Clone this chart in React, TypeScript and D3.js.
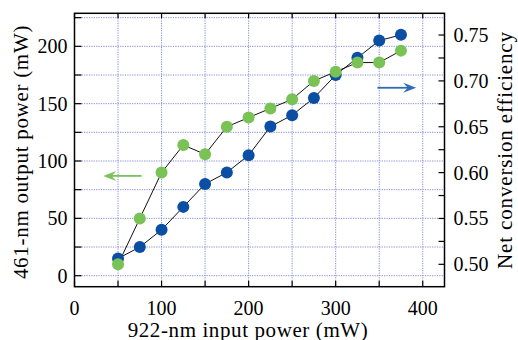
import React from 'react';
import * as d3 from 'd3';

// input power (mW)
const inputPower = [50, 75, 100, 125, 150, 175, 200, 225, 250, 275, 300, 325, 350, 375];
// 461-nm output power (mW), left axis
const outputPower = [15, 25, 40, 60, 80, 90, 105, 130, 140, 155, 175, 190, 205, 210];
// net conversion efficiency, right axis
const efficiency = [0.50, 0.55, 0.60, 0.63, 0.62, 0.65, 0.66, 0.67, 0.68, 0.70, 0.71, 0.72, 0.72, 0.733];

const xTicks = [0, 50, 100, 150, 200, 250, 300, 350, 400];
const xLabels = [0, 100, 200, 300, 400];
const leftTicks = [0, 25, 50, 75, 100, 125, 150, 175, 200, 225];
const leftLabels = [0, 50, 100, 150, 200];
const rightTicks = [0.5, 0.525, 0.55, 0.575, 0.6, 0.625, 0.65, 0.675, 0.7, 0.725, 0.75];
const rightLabels = [0.5, 0.55, 0.6, 0.65, 0.7, 0.75];

const W = 518, H = 340;
const FONT = 'Liberation Serif';
const left = 74.5, right = 444.5, top = 13.3, bottom = 286.7;

const x = d3.scaleLinear().domain([0, 425]).range([left, right]);
const yL = d3.scaleLinear().domain([-9.6, 228.8]).range([bottom, top]);
const yR = d3.scaleLinear().domain([0.4756, 0.7737]).range([bottom, top]);

const lineL = d3.line<number>().x((d, i) => x(inputPower[i])).y(d => yL(d));
const lineR = d3.line<number>().x((d, i) => x(inputPower[i])).y(d => yR(d));

const Arrow = ({ x0, x1, y, color }: { x0: number; x1: number; y: number; color: string }) => {
	const dir = x1 > x0 ? 1 : -1;
	const hl = 13, hw = 5;
	const p = [[x1, y], [x1 - dir * hl, y - hw], [x1 - dir * hl * 0.65, y], [x1 - dir * hl, y + hw]];
	return (
		<g>
			<line x1={x0} x2={x1 - dir * hl * 0.6} y1={y} y2={y} stroke={color} strokeWidth={1.8} />
			<path d={'M' + p.map(q => q.join(',')).join('L') + 'Z'} fill={color} />
		</g>
	);
};

const App = () => (
	<svg width={W} height={H} style={{ position: 'absolute', left: 0, top: 0, background: '#fff' }}>
		{/* grid */}
		<g stroke="#6e79cc" strokeWidth={1} strokeDasharray="1.2,1.2" opacity={0.85}>
			{xTicks.filter(d => d > 0).map(d => (
				<line key={'v' + d} x1={x(d)} x2={x(d)} y1={top} y2={bottom} />
			))}
			{leftTicks.map(d => (
				<line key={'h' + d} x1={left} x2={right} y1={yL(d)} y2={yL(d)} />
			))}
		</g>

		{/* ticks, inward */}
		<g stroke="#000" strokeWidth={1.2}>
			{xTicks.map(d => (
				<g key={'xt' + d}>
					<line x1={x(d)} x2={x(d)} y1={bottom} y2={bottom - 6} />
					<line x1={x(d)} x2={x(d)} y1={top} y2={top + 5} />
				</g>
			))}
			{leftTicks.map(d => (
				<line key={'lt' + d} x1={left} x2={left + 7} y1={yL(d)} y2={yL(d)} />
			))}
			{rightTicks.map(d => (
				<line key={'rt' + d} x1={right} x2={right - 6} y1={yR(d)} y2={yR(d)} />
			))}
		</g>

		{/* tick labels */}
		{xLabels.map(d => (
			<text key={'xl' + d} fontFamily={FONT} fontSize={20} x={x(d)} y={bottom + 28} textAnchor="middle">{d}</text>
		))}
		{leftLabels.map(d => (
			<text key={'ll' + d} fontFamily={FONT} fontSize={20} x={left - 7} y={yL(d) + 7} textAnchor="end">{d}</text>
		))}
		{rightLabels.map(d => (
			<text key={'rl' + d} fontFamily={FONT} fontSize={20} x={right + 9} y={yR(d) + 7} textAnchor="start">{d3.format('.2f')(d)}</text>
		))}

		{/* frame */}
		<rect x={left} y={top} width={right - left} height={bottom - top} fill="none" stroke="#000" strokeWidth={1.5} />

		{/* connecting lines */}
		<path d={lineL(outputPower) || ''} fill="none" stroke="#111" strokeWidth={1} />
		<path d={lineR(efficiency) || ''} fill="none" stroke="#111" strokeWidth={1} />

		{/* markers */}
		{outputPower.map((d, i) => (
			<circle key={'b' + i} cx={x(inputPower[i])} cy={yL(d)} r={6} fill="#0b4fa5" />
		))}
		{efficiency.map((d, i) => (
			<circle key={'g' + i} cx={x(inputPower[i])} cy={yR(d)} r={6} fill="#79c255" />
		))}

		{/* arrows */}
		<Arrow x0={x(77)} x1={x(33)} y={yL(87)} color="#7ac35a" />
		<Arrow x0={x(348)} x1={x(392.5)} y={yR(0.6925)} color="#2e6cb6" />

		{/* titles */}
		<text fontFamily={FONT} fontSize={21} letterSpacing={0.6} textAnchor="middle" x={248} y={336.5}>922-nm input power (mW)</text>
		<text fontFamily={FONT} fontSize={21} letterSpacing={0.7} textAnchor="middle" transform="translate(28,152) rotate(-90)">461-nm output power (mW)</text>
		<text fontFamily={FONT} fontSize={21} letterSpacing={0.85} textAnchor="middle" transform="translate(512,150) rotate(-90)">Net conversion efficiency</text>
	</svg>
);

export default App;
